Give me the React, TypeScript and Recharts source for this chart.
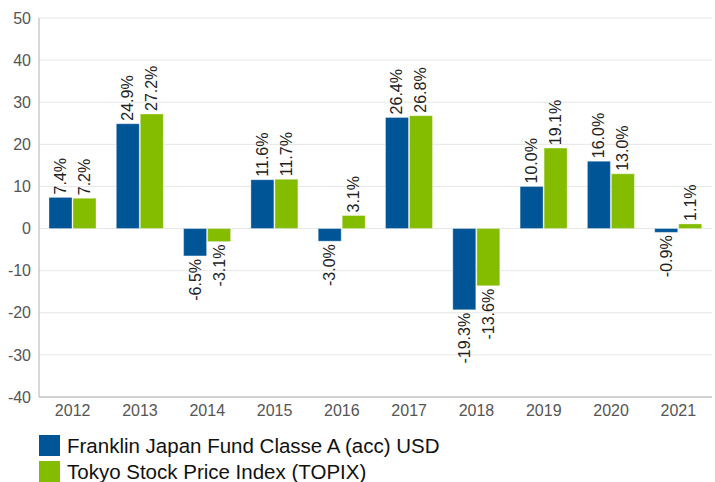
import React from "react";
import { BarChart, Bar, XAxis, YAxis, CartesianGrid, LabelList } from "recharts";

const years = ["2012", "2013", "2014", "2015", "2016", "2017", "2018", "2019", "2020", "2021"];
const fundReturns = [7.4, 24.9, -6.5, 11.6, -3.0, 26.4, -19.3, 10.0, 16.0, -0.9];
const topixReturns = [7.2, 27.2, -3.1, 11.7, 3.1, 26.8, -13.6, 19.1, 13.0, 1.1];
const yTicks = [-40, -30, -20, -10, 0, 10, 20, 30, 40, 50];

const FUND_NAME = "Franklin Japan Fund Classe A (acc) USD";
const TOPIX_NAME = "Tokyo Stock Price Index (TOPIX)";
const BLUE = "#005596";
const GREEN = "#84bc00";
const FONT = "'Liberation Sans', Arial, sans-serif";

const data = years.map((year, i) => ({
  year,
  fund: fundReturns[i],
  topix: topixReturns[i],
}));

const RotatedLabel = (props: any) => {
  const { x, y, width, height, value } = props;
  const cx = x + width / 2;
  const top = Math.min(y, y + height);
  const bottom = Math.max(y, y + height);
  const positive = value >= 0;
  const ly = positive ? top - 3 : bottom + 3;
  return (
    <text
      x={cx}
      y={ly}
      transform={`rotate(-90, ${cx}, ${ly})`}
      textAnchor={positive ? "start" : "end"}
      dominantBaseline="central"
      fontSize={16}
      fill="#222"
      fontFamily={FONT}
    >
      {`${value.toFixed(1)}%`}
    </text>
  );
};

const legendItems = [
  { name: FUND_NAME, color: BLUE },
  { name: TOPIX_NAME, color: GREEN },
];

export default function App() {
  return (
    <div style={{ position: "absolute", left: 0, top: 0, width: 715, height: 482, background: "#fff", fontFamily: FONT }}>
      <BarChart
        width={715}
        height={482}
        data={data}
        margin={{ top: 18, right: 3, bottom: 55, left: 0 }}
        barCategoryGap={10}
        barGap={1}
      >
        <CartesianGrid vertical={false} stroke="#e6e6e6" />
        <XAxis
          dataKey="year"
          height={30}
          tickLine={false}
          axisLine={{ stroke: "#b0b0b0" }}
          tick={{ fill: "#555", fontSize: 16, fontFamily: FONT }}
        />
        <YAxis
          width={39}
          domain={[-40, 50]}
          ticks={yTicks}
          interval={0}
          tickLine={false}
          axisLine={{ stroke: "#b0b0b0" }}
          tick={{ fill: "#555", fontSize: 16, fontFamily: FONT }}
        />
        <Bar dataKey="fund" name={FUND_NAME} fill={BLUE} stroke="rgba(255,255,255,0.35)" isAnimationActive={false}>
          <LabelList dataKey="fund" content={RotatedLabel} />
        </Bar>
        <Bar dataKey="topix" name={TOPIX_NAME} fill={GREEN} stroke="rgba(255,255,255,0.35)" isAnimationActive={false}>
          <LabelList dataKey="topix" content={RotatedLabel} />
        </Bar>
      </BarChart>
      <div style={{ position: "absolute", left: 39, top: 432 }}>
        {legendItems.map((item) => (
          <div key={item.name} style={{ display: "flex", alignItems: "center", height: 26 }}>
            <span style={{ display: "inline-block", width: 21, height: 21, background: item.color, marginRight: 7 }} />
            <span style={{ fontSize: 20.5, color: "#111", lineHeight: "21px" }}>{item.name}</span>
          </div>
        ))}
      </div>
    </div>
  );
}
